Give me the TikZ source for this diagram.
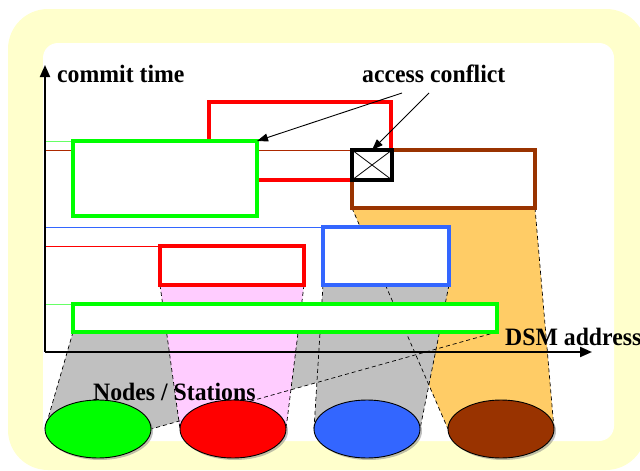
\documentclass[tikz,border=0pt]{standalone}
\usepackage{fontspec}
\newfontfamily\lbl[FakeStretch=0.95]{Liberation Serif}
\usetikzlibrary{arrows.meta,shapes.geometric,shadows}
\pgfdeclarelayer{back}
\pgfdeclarelayer{proj}
\pgfsetlayers{back,proj,main}
\definecolor{ybg}{HTML}{FFFFCC}
\definecolor{cgreen}{HTML}{00FF00}
\definecolor{cred}{HTML}{FF0000}
\definecolor{cblue}{HTML}{3366FF}
\definecolor{cbrown}{HTML}{993300}
\definecolor{cgray}{HTML}{C0C0C0}
\definecolor{cpink}{HTML}{FFCCFF}
\definecolor{corange}{HTML}{FFCC66}
\begin{document}
\begin{tikzpicture}[x=1pt,y=-1pt,
  rbox/.style={draw, line width=3.5pt, inner sep=0pt, outer sep=0pt, fill=white},
  thinline/.style={line width=1pt},
  sideedge/.style={line width=0.7pt, dash pattern=on 4pt off 3pt},
  station/.style={ellipse, draw=black, line width=0.9pt, minimum width=106pt, minimum height=58pt, inner sep=0pt, outer sep=0pt, drop shadow={shadow xshift=2pt, shadow yshift=-2pt, opacity=0.5}},
  lab/.style={anchor=base west, inner sep=0pt, font=\lbl\bfseries\fontsize{25}{28}\selectfont},
  arr/.style={line width=0.9pt, -{Triangle[length=11pt,width=8pt]}},
  axisline/.style={line width=2pt, -{Triangle[length=12pt,width=10pt]}}]
\useasboundingbox (0,0) rectangle (640,471);
\begin{pgfonlayer}{back}
\fill[ybg, rounded corners=40pt] (8,9) rectangle (646,470);
\fill[white, rounded corners=15pt] (43,43) rectangle (614,441);
\end{pgfonlayer}

\coordinate (O) at (45,352);
\coordinate (T) at (45,65);
\coordinate (X) at (592,352);

% rectangles
\node[rbox, draw=cred, fill=none, minimum width=182pt, minimum height=78pt] (redtop) at (300,141) {};
\node[rbox, draw=cgreen, minimum width=184pt, minimum height=75pt] (greenbig) at (165,178.5) {};
\node[rbox, draw=cbrown, minimum width=183pt, minimum height=58pt] (brown) at (443.5,179) {};
\node[rbox, draw=black, minimum width=40pt, minimum height=30pt] (xbox) at (372,165) {};
\draw[line width=0.8pt] (xbox.north west) -- (xbox.south east) (xbox.north east) -- (xbox.south west);
\node[rbox, draw=cred, minimum width=144pt, minimum height=39pt] (redmid) at (232,265.5) {};
\node[rbox, draw=cblue, minimum width=126pt, minimum height=58pt] (blue) at (386,256) {};
\node[rbox, draw=cgreen, minimum width=424pt, minimum height=28pt] (greenlong) at (285,318) {};

% stations
\node[station, fill=cgreen] (eg) at (98,429) {};
\node[station, fill=cred] (er) at (233,429) {};
\node[station, fill=cblue] (eb) at (367,429) {};
\node[station, fill=cbrown] (ebr) at (501,429) {};

\begin{pgfonlayer}{proj}
\fill[cgray] (greenlong.south west) -- (greenlong.south east) -- (eg.east) -- (eg.west) -- cycle;
\fill[cpink] (redmid.south west) -- (redmid.south east) -- (er.east) -- (er.west) -- cycle;
\fill[corange] (brown.south west) -- (brown.south east) -- (ebr.east) -- (ebr.west) -- cycle;
\fill[cgray] (blue.south west) -- (blue.south east) -- (eb.east) -- (eb.west) -- cycle;
\draw[sideedge] (greenlong.south west) -- (eg.west) (greenlong.south east) -- (eg.east);
\draw[sideedge] (redmid.south west) -- (er.west) (redmid.south east) -- (er.east);
\draw[sideedge] (brown.south west) -- (ebr.west) (brown.south east) -- (ebr.east);
\draw[sideedge] (blue.south west) -- (eb.west) (blue.south east) -- (eb.east);
% reference lines from the time axis
\draw[thinline, cgreen!60] (O |- greenbig.north west) -- (greenbig.north west);
\draw[thinline, cbrown!80!red] (O |- brown.north west) -- (brown.north west);
\draw[thinline, cblue] (O |- blue.north west) -- (blue.north west);
\draw[thinline, cred] (O |- redmid.north west) -- (redmid.north west);
\draw[thinline, cgreen!60] (O |- greenlong.north west) -- (greenlong.north west);
\end{pgfonlayer}

% labels
\node[lab] (ct) at (57,82) {commit time};
\node[lab] (ac) at (362,82) {access conflict};
\node[lab] (dsm) at (505,345) {DSM address};
\node[lab] (ns) at (93,400) {Nodes / Stations};

% arrows
\coordinate (s1) at (402,93);
\coordinate (s2) at (429,93);
\draw[arr] (s1) -- (greenbig.north east);
\draw[arr] (s2) -- (xbox.north);

% axes
\draw[axisline] (O) -- (T);
\draw[axisline] (O) -- (X);
\end{tikzpicture}
\end{document}
